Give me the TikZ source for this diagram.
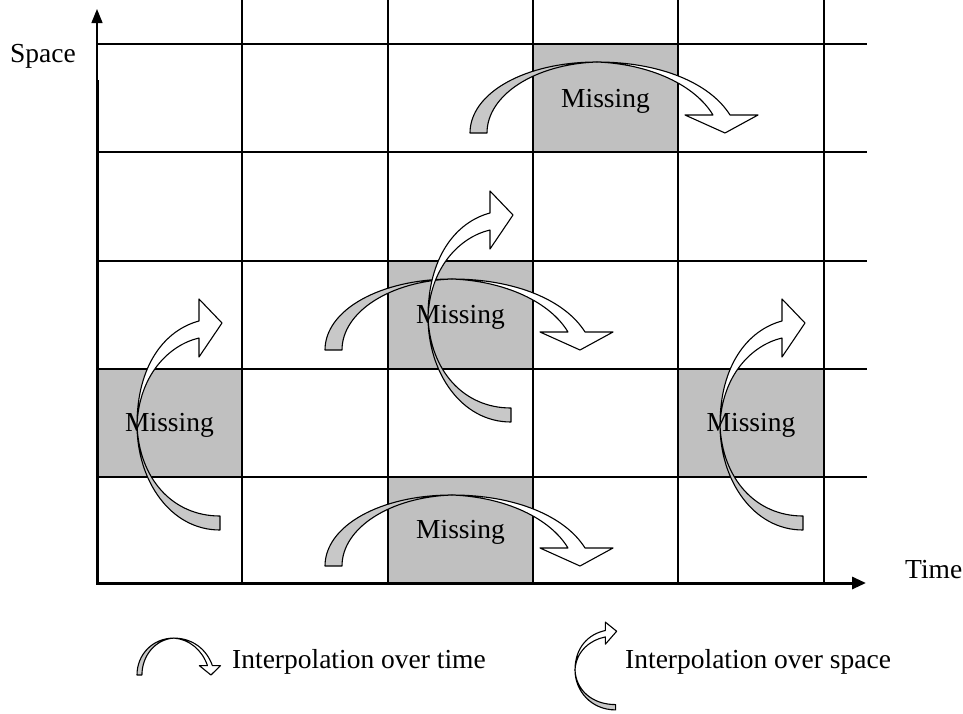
\documentclass[tikz,border=0pt]{standalone}
\usepackage{fontspec}
\setmainfont{Liberation Serif}
\usetikzlibrary{arrows.meta}
\definecolor{cellgray}{RGB}{192,192,192}
\definecolor{bandgray}{RGB}{200,200,200}
\begin{document}
\begin{tikzpicture}[x=1pt,y=-1pt,
  gridline/.style={line width=1.3pt},
  axisline/.style={line width=3pt},
  band/.style={draw=black,line width=1.1pt,line join=round},
  lbl/.style={font=\fontsize{27.5}{30}\selectfont,inner sep=0pt},
  % curved arrow over time: gray underside rising, white top side with head
  timearrow/.pic={
    \filldraw[band,fill=bandgray] (0,0) .. controls (0,-40) and (55,-71) .. (127,-71)
        .. controls (65,-69) and (17,-38) .. (17,0) -- cycle;
    \filldraw[band,fill=white] (127,-71) .. controls (190,-71) and (240,-50) .. (260,-18)
        -- (288,-18) -- (255,0) -- (215,-18) -- (243,-18)
        .. controls (225,-48) and (180,-69) .. (127,-71) -- cycle;
  },
  % curved arrow over space: gray lower part, white upper part with head
  spacearrow/.pic={
    \filldraw[band,fill=bandgray] (83,105) .. controls (33,105) and (0,55) .. (0,0)
        .. controls (2,53) and (35,91) .. (83,91) -- cycle;
    \filldraw[band,fill=white] (0,0) .. controls (0,-60) and (28,-95) .. (62,-104)
        -- (62,-126) -- (85,-102) -- (62,-68) -- (62,-87)
        .. controls (32,-80) and (2,-50) .. (0,0) -- cycle;
  }]
\useasboundingbox (0,0) rectangle (963,713);
\fill[white] (0,0) rectangle (963,713);

% missing cells
\fill[cellgray] (533,44) rectangle (678,152);
\fill[cellgray] (388,261) rectangle (533,369);
\fill[cellgray] (97,369) rectangle (242,477);
\fill[cellgray] (678,369) rectangle (824,477);
\fill[cellgray] (388,477) rectangle (533,583);

% grid
\foreach \x in {242,388,533,678,824} \draw[gridline] (\x,0) -- (\x,583);
\foreach \y in {44,152,261,369,477} \draw[gridline] (97,\y) -- (867,\y);

% axes
\coordinate (o) at (97,583);
\coordinate (ytop) at (97,9);
\coordinate (ythick) at (97,80);
\coordinate (xend) at (866,583);
\draw[gridline,-{Triangle[length=14pt,width=11pt]}] (o) -- (ytop);
\draw[axisline,-{Triangle[length=14pt,width=12pt]}] (ythick) -- (o) -- (xend);

% interpolation arrows
\pic at (470,133) {timearrow};
\pic at (325,350) {timearrow};
\pic at (325,566) {timearrow};
\pic at (137,425) {spacearrow};
\pic at (428,317) {spacearrow};
\pic at (720,425) {spacearrow};

% legend icons
\pic[xscale=0.29,yscale=0.52] at (137,675) {timearrow};
\pic[xscale=0.49,yscale=0.38] at (575,670) {spacearrow};

% labels
\node[lbl,anchor=base] (m1) at (605.5,107) {Missing};
\node[lbl,anchor=base] (m2) at (460.5,323) {Missing};
\node[lbl,anchor=base] (m3) at (169.5,431) {Missing};
\node[lbl,anchor=base] (m4) at (751,431) {Missing};
\node[lbl,anchor=base] (m5) at (460.5,538) {Missing};
\node[lbl,anchor=base west] (space) at (10,62) {Space};
\node[lbl,anchor=base west] (time) at (905,578) {Time};
\node[lbl,anchor=base west] (lt) at (232,668) {Interpolation over time};
\node[lbl,anchor=base west] (ls) at (625,668) {Interpolation over space};
\end{tikzpicture}
\end{document}
